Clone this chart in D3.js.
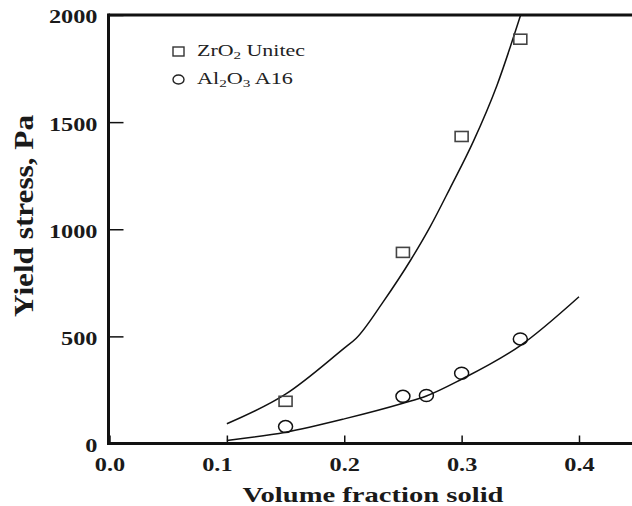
<!DOCTYPE html>
<html><head><meta charset="utf-8">
<script src="https://cdn.jsdelivr.net/npm/d3@7"></script>
<style>
html,body{margin:0;padding:0;background:#fff;}
svg{display:block;}
</style></head>
<body>
<svg id="chart" width="632" height="506"></svg>
<script>
// ---- data ----
const xTicks = [0, 0.1, 0.2, 0.3, 0.4];
const xTickLabels = ["0.0", "0.1", "0.2", "0.3", "0.4"];
const yTicks = [0, 500, 1000, 1500, 2000];
const yTickLabels = ["0", "500", "1000", "1500", "2000"];

const zrX = [0.15, 0.25, 0.30, 0.35];
const zrY = [197, 892, 1433, 1887];
const alX = [0.15, 0.25, 0.27, 0.30, 0.35];
const alY = [79, 220, 224, 328, 488];

const zrFitX = [0.10, 0.15, 0.20, 0.21, 0.233, 0.257, 0.273, 0.29, 0.31, 0.33, 0.3503];
const zrFitY = [92, 230, 445, 490, 660, 860, 1010, 1190, 1410, 1670, 2000];
const alFitX = [0.10, 0.15, 0.20, 0.25, 0.27, 0.30, 0.35, 0.40];
const alFitY = [14, 53, 115, 188, 222, 300, 457, 685];

const seriesNames = ["ZrO\u2082 Unitec", "Al\u2082O\u2083 A16"];
const xTitle = "Volume fraction solid";
const yTitle = "Yield stress, Pa";

// ---- layout ----
const W = 632, H = 506;
const svg = d3.select("#chart");
const x = d3.scaleLinear().domain([0, 0.4]).range([109.5, 579]);
const y = d3.scaleLinear().domain([0, 2000]).range([443.5, 15]);
const serif = "'Liberation Serif', 'Times New Roman', serif";

function stretch(sel, k) {
  sel.each(function () {
    const len = this.getComputedTextLength();
    d3.select(this).attr("textLength", len * k).attr("lengthAdjust", "spacingAndGlyphs");
  });
}

// x axis
const gx = svg.append("g").attr("transform", `translate(0,${y(0)})`)
  .call(d3.axisBottom(x).tickValues(xTicks).tickFormat((d, i) => xTickLabels[i])
    .tickSizeInner(-8).tickSizeOuter(0).tickPadding(14));
gx.select(".domain").remove();
gx.selectAll(".tick line").attr("stroke", "#111").attr("stroke-width", 1.5);
gx.selectAll(".tick text").attr("font-family", serif).attr("font-weight", "bold")
  .attr("font-size", 19).attr("fill", "#1a1a1a")
  .attr("dx", (d, i) => i === 1 ? -10 : 0);
stretch(gx.selectAll(".tick text"), 1.28);

// y axis
const gy = svg.append("g").attr("transform", `translate(108.5,0)`)
  .call(d3.axisLeft(y).tickValues(yTicks).tickFormat((d, i) => yTickLabels[i])
    .tickSizeInner(-15).tickSizeOuter(0).tickPadding(11));
gy.select(".domain").remove();
gy.selectAll(".tick line").attr("stroke", "#111").attr("stroke-width", 1.5);
gy.selectAll(".tick text").attr("font-family", serif).attr("font-weight", "bold")
  .attr("font-size", 19).attr("fill", "#1a1a1a").attr("dy", "0.42em");
stretch(gy.selectAll(".tick text"), 1.28);

// frame
const frame = svg.append("g").attr("stroke", "#111").attr("stroke-width", 3).attr("fill", "none");
frame.append("line").attr("x1", 108.5).attr("x2", 108.5).attr("y1", y(2000) - 1.5).attr("y2", y(0) + 1.5);
frame.append("line").attr("x1", 108.5).attr("x2", W).attr("y1", y(2000)).attr("y2", y(2000));
frame.append("line").attr("x1", 108.5).attr("x2", W).attr("y1", y(0)).attr("y2", y(0));

// fitted curves
const line = d3.line().x(d => x(d[0])).y(d => y(d[1])).curve(d3.curveMonotoneX);
svg.append("path").datum(d3.zip(zrFitX, zrFitY)).attr("d", line)
  .attr("fill", "none").attr("stroke", "#111").attr("stroke-width", 1.5);
svg.append("path").datum(d3.zip(alFitX, alFitY)).attr("d", line)
  .attr("fill", "none").attr("stroke", "#111").attr("stroke-width", 1.5);

// points
svg.append("g").selectAll("rect").data(d3.zip(zrX, zrY)).join("rect")
  .attr("x", d => x(d[0]) - 6.5).attr("y", d => y(d[1]) - 5)
  .attr("width", 13).attr("height", 10)
  .attr("fill", "none").attr("stroke", "#444").attr("stroke-width", 1.6);
svg.append("g").selectAll("ellipse").data(d3.zip(alX, alY)).join("ellipse")
  .attr("cx", d => x(d[0])).attr("cy", d => y(d[1]))
  .attr("rx", 7).attr("ry", 6)
  .attr("fill", "none").attr("stroke", "#111").attr("stroke-width", 1.5);

// legend
const lg = svg.append("g");
lg.append("rect").attr("x", 173).attr("y", 47).attr("width", 11).attr("height", 9)
  .attr("fill", "none").attr("stroke", "#333").attr("stroke-width", 1.4);
lg.append("ellipse").attr("cx", 178.5).attr("cy", 79.5).attr("rx", 5.5).attr("ry", 4.5)
  .attr("fill", "none").attr("stroke", "#222").attr("stroke-width", 1.4);

function legendText(yb, parts, targetW) {
  const g = lg.append("g");
  const t = g.append("text").attr("font-family", serif).attr("font-size", 16).attr("fill", "#222");
  parts.forEach(p => {
    if (p.sub) {
      t.append("tspan").attr("font-size", 11).attr("dy", 3).text(p.s);
    } else {
      t.append("tspan").attr("dy", p.after ? -3 : 0).text(p.s);
    }
  });
  const w = t.node().getBBox().width;
  g.attr("transform", `translate(197,${yb}) scale(${targetW / w},1)`);
}
legendText(56, [{s: "ZrO"}, {s: "2", sub: true}, {s: " Unitec", after: true}], 108);
legendText(84, [{s: "Al"}, {s: "2", sub: true}, {s: "O", after: true}, {s: "3", sub: true}, {s: " A16", after: true}], 96);

// axis titles
const xt = svg.append("text").attr("x", 373).attr("y", 502).attr("text-anchor", "middle")
  .attr("font-family", serif).attr("font-weight", "bold").attr("font-size", 22)
  .attr("fill", "#1a1a1a").text(xTitle);
xt.attr("textLength", 261).attr("lengthAdjust", "spacingAndGlyphs");

const yt = svg.append("text").attr("transform", "translate(33,216) rotate(-90)")
  .attr("text-anchor", "middle")
  .attr("font-family", serif).attr("font-weight", "bold").attr("font-size", 28)
  .attr("fill", "#1a1a1a").text(yTitle);
yt.attr("textLength", 202).attr("lengthAdjust", "spacingAndGlyphs");
</script>
</body></html>
